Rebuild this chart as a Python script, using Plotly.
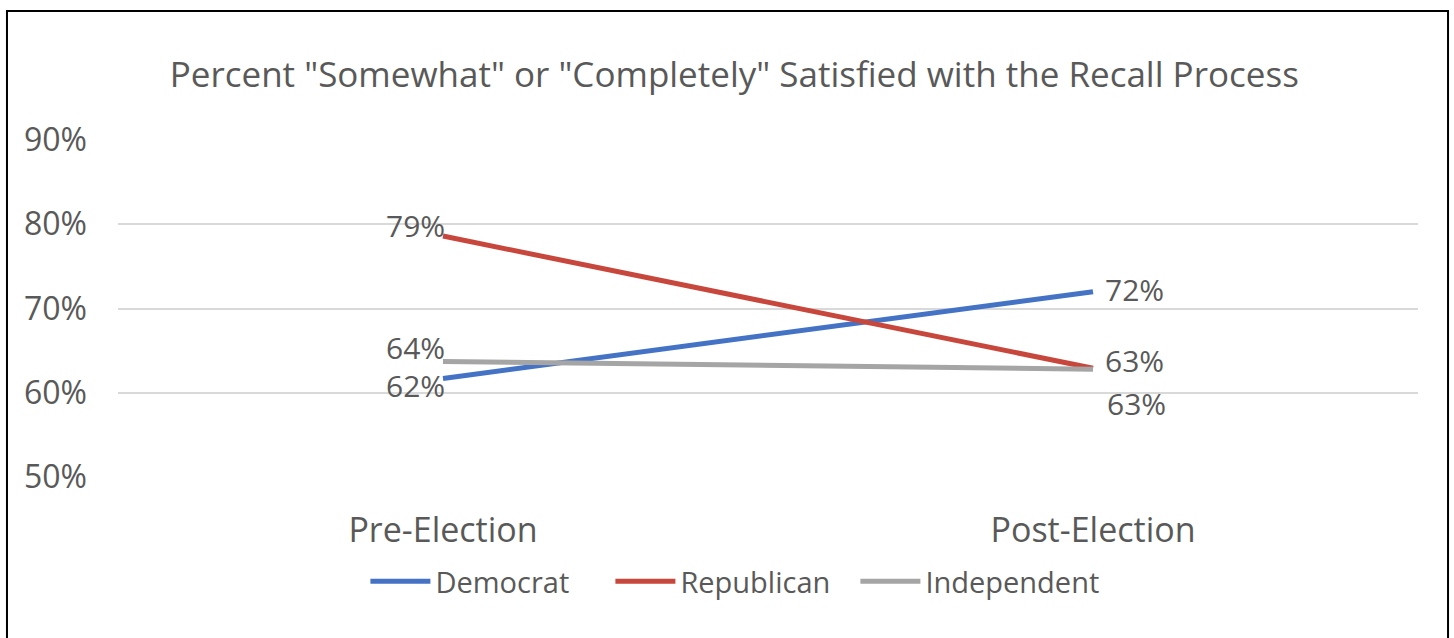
import plotly.graph_objects as go

categories = ["Pre-Election", "Post-Election"]
democrat = [61.7, 72.0]
republican = [78.6, 62.9]
independent = [63.7, 62.8]
labels_dem = ["62%", "72%"]
labels_rep = ["79%", "63%"]
labels_ind = ["64%", "63%"]
y_ticks = [50, 60, 70, 80, 90]
y_ticklabels = ["50%", "60%", "70%", "80%", "90%"]

FONT = "Open Sans"
TXT = "#595959"

series = [
    ("Democrat", democrat, labels_dem, "#4472C4"),
    ("Republican", republican, labels_rep, "#C8473C"),
    ("Independent", independent, labels_ind, "#A5A5A5"),
]

# label placement (style only): (xanchor, xshift, yshift) per point
label_style = {
    "Democrat": [("right", 4, -7), ("left", 10, 2)],
    "Republican": [("right", 4, 11), ("left", 10, 8)],
    "Independent": [("right", 4, 14), ("left", 12, -34)],
}

fig = go.Figure()
annotations = []
for name, vals, labs, color in series:
    fig.add_trace(go.Scatter(
        x=categories, y=vals, name=name, mode="lines",
        line=dict(color=color, width=5)))
    for i, (cat, v, lab) in enumerate(zip(categories, vals, labs)):
        xa, xs, ys = label_style[name][i]
        annotations.append(dict(
            x=cat, y=v, xref="x", yref="y", text=lab, showarrow=False,
            xanchor=xa, yanchor="middle", xshift=xs, yshift=ys,
            font=dict(size=30, color=TXT, family=FONT)))

fig.update_layout(
    width=1454, height=638,
    margin=dict(l=118, r=36, t=140, b=161),
    paper_bgcolor="white", plot_bgcolor="white",
    title=dict(text='Percent "Somewhat" or "Completely" Satisfied with the Recall Process',
               x=0.505, xanchor="center", y=0.883, yanchor="middle",
               font=dict(size=35, color=TXT, family=FONT)),
    legend=dict(orientation="h", x=0.473, xanchor="center", y=-0.31, yanchor="middle",
                font=dict(size=29, color=TXT, family=FONT), itemwidth=60,
                entrywidth=170, entrywidthmode="pixels", tracegroupgap=0),
    showlegend=True,
    annotations=annotations,
    xaxis=dict(showgrid=False, zeroline=False, showline=False,
               tickfont=dict(size=34, color=TXT, family=FONT),
               ticklabelstandoff=30, range=[-0.5, 1.5]),
    yaxis=dict(range=[50, 90], tickvals=y_ticks, ticktext=y_ticklabels,
               showgrid=True, gridcolor="#D9D9D9", gridwidth=2, zeroline=False,
               showline=False, tickfont=dict(size=32, color=TXT, family=FONT),
               ticklabelstandoff=30),
    shapes=[dict(type="rect", xref="paper", yref="paper",
                 x0=-0.0854, x1=1.0231, y0=-0.6, y1=1.3828,
                 line=dict(color="black", width=2), fillcolor="rgba(0,0,0,0)",
                 layer="below")],
)

fig.write_html("out.html")
